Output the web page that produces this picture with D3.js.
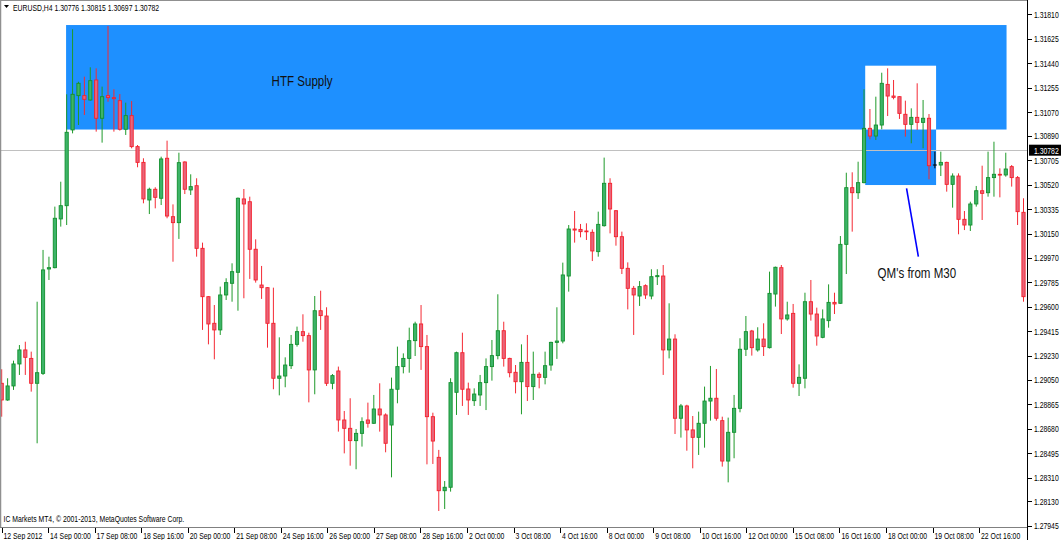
<!DOCTYPE html>
<html><head><meta charset="utf-8">
<script src="https://cdn.jsdelivr.net/npm/d3@7"></script>
<style>html,body{margin:0;padding:0;background:#fff;overflow:hidden}svg{display:block}</style>
</head><body>
<svg id="chart" width="1061" height="540"></svg>
<script>
// ---- data (EURUSD H4, 12 Sep 2012 16:00 onward) ----
const opens = [1.29022,1.28896,1.29002,1.29168,1.29274,1.29210,1.29022,1.29097,1.29885,1.29895,
1.30263,1.30363,1.30935,1.31194,1.31194,1.31161,1.31312,1.31023,1.31194,1.31179,
1.31156,1.30940,1.31043,1.30809,1.30690,1.30406,1.30487,1.30419,1.30721,1.30280,
1.30235,1.30693,1.30482,1.30514,1.30041,1.29676,1.29475,1.29425,1.29689,1.29777,
1.29860,1.30414,1.30393,1.30034,1.29764,1.29744,1.29475,1.29060,1.29077,1.29155,
1.29316,1.29412,1.29382,1.29123,1.29570,1.29530,1.29022,1.29115,1.28745,1.28682,
1.28589,1.28644,1.28745,1.28720,1.28828,1.28783,1.28707,1.28977,1.29148,1.29210,
1.29344,1.29470,1.29299,1.28770,1.28463,1.28211,1.28237,1.28954,1.29253,1.28979,
1.28891,1.28934,1.29027,1.29148,1.29231,1.29419,1.29210,1.29105,1.29034,1.29180,
1.28997,1.29090,1.29067,1.29160,1.29331,1.29341,1.29832,1.30187,1.30184,1.30172,
1.30162,1.30016,1.30212,1.30532,1.30325,1.30129,1.29890,1.29739,1.29681,1.29759,
1.29681,1.29827,1.29832,1.29274,1.29356,1.28758,1.28851,1.28670,1.28614,1.28720,
1.28888,1.28909,1.28740,1.28435,1.28652,1.28833,1.29279,1.29417,1.29274,1.29356,
1.29291,1.29696,1.29895,1.29508,1.29550,1.29022,1.29060,1.29638,1.29545,1.29369,
1.29495,1.29633,1.29626,1.30071,1.30499,1.30461,1.30537,1.30947,1.30889,1.30972,
1.31279,1.31191,1.31186,1.31053,1.30977,1.31030,1.30992,1.31023,1.30670,1.30670,
1.30690,1.30524,1.30587,1.30260,1.30217,1.30376,1.30476,1.30461,1.30575,1.30600,
1.30595,1.30658,1.30575,1.30313];
const highs = [1.29128,1.29060,1.29193,1.29311,1.29336,1.29261,1.29638,1.30029,1.29978,1.30356,
1.30544,1.31204,1.31695,1.31299,1.31337,1.31408,1.31400,1.31262,1.31720,1.31242,
1.31206,1.31141,1.31153,1.30821,1.30721,1.30499,1.30502,1.30733,1.30854,1.30373,
1.30763,1.30698,1.30600,1.30570,1.30084,1.29680,1.29613,1.29752,1.29815,1.29928,
1.30425,1.30489,1.30431,1.30109,1.29908,1.29748,1.29744,1.29369,1.29218,1.29387,
1.29450,1.29543,1.29404,1.29681,1.29721,1.29596,1.29092,1.29148,1.28813,1.28909,
1.28677,1.28765,1.28876,1.28934,1.29022,1.28795,1.29065,1.29299,1.29248,1.29442,
1.29487,1.29613,1.29387,1.28800,1.28519,1.28284,1.29060,1.29261,1.29404,1.29027,
1.28984,1.29085,1.29210,1.29349,1.29694,1.29487,1.29215,1.29160,1.29316,1.29387,
1.29261,1.29105,1.29261,1.29336,1.29596,1.29933,1.30217,1.30323,1.30225,1.30230,
1.30184,1.30318,1.30726,1.30570,1.30330,1.30167,1.29935,1.29757,1.29794,1.29769,
1.29883,1.29883,1.29915,1.29626,1.29392,1.28866,1.28860,1.28775,1.28808,1.28997,
1.29153,1.29130,1.28770,1.28763,1.28934,1.29362,1.29530,1.29425,1.29445,1.29475,
1.29865,1.29903,1.29915,1.29638,1.29621,1.29165,1.29706,1.29802,1.29593,1.29580,
1.29769,1.29706,1.30134,1.30612,1.30615,1.30695,1.31242,1.31093,1.31186,1.31367,
1.31400,1.31312,1.31190,1.31156,1.31098,1.31287,1.31161,1.31055,1.30771,1.30771,
1.30695,1.30607,1.30607,1.30323,1.30393,1.30512,1.30665,1.30771,1.30846,1.30645,
1.30763,1.30670,1.30587,1.30419];
const lows = [1.28770,1.28890,1.28972,1.29085,1.29085,1.28959,1.28569,1.29085,1.29802,1.29890,
1.30205,1.30217,1.30909,1.30972,1.31048,1.31156,1.30922,1.30839,1.31148,1.30922,
1.30930,1.30897,1.30796,1.30653,1.30381,1.30300,1.30343,1.30368,1.30268,1.29940,
1.30112,1.30451,1.30444,1.29978,1.29425,1.29316,1.29203,1.29387,1.29651,1.29638,
1.29570,1.29664,1.29810,1.29782,1.29659,1.29291,1.28977,1.28931,1.28992,1.29130,
1.29299,1.29336,1.28878,1.28939,1.29425,1.29002,1.28977,1.28657,1.28493,1.28400,
1.28373,1.28544,1.28687,1.28715,1.28657,1.28501,1.28312,1.28871,1.29097,1.29102,
1.29228,1.29123,1.28410,1.28413,1.28058,1.28073,1.28204,1.28783,1.28851,1.28783,
1.28851,1.28851,1.28820,1.29042,1.29203,1.29148,1.29067,1.28946,1.28788,1.28888,
1.28896,1.28984,1.29014,1.29117,1.29206,1.29324,1.29714,1.30084,1.30124,1.30104,
1.29945,1.29978,1.30205,1.30154,1.30061,1.29847,1.29580,1.29387,1.29606,1.29659,
1.29656,1.29764,1.29085,1.29210,1.28639,1.28612,1.28513,1.28380,1.28481,1.28536,
1.28740,1.28740,1.28393,1.28274,1.28456,1.28803,1.29228,1.29231,1.29261,1.29228,
1.29285,1.29601,1.29394,1.29495,1.28989,1.28926,1.28984,1.29495,1.29306,1.29362,
1.29442,1.29545,1.29621,1.29847,1.30167,1.30414,1.30532,1.30864,1.30859,1.30940,
1.31040,1.31166,1.31018,1.30884,1.30834,1.30935,1.30796,1.30562,1.30645,1.30587,
1.30469,1.30348,1.30147,1.30179,1.30172,1.30356,1.30255,1.30431,1.30431,1.30426,
1.30582,1.30507,1.30217,1.29638];
const closes = [1.28896,1.29002,1.29168,1.29274,1.29218,1.29022,1.29102,1.29878,1.29895,1.30268,
1.30363,1.30917,1.31204,1.31287,1.31166,1.31307,1.31023,1.31186,1.31179,1.31171,
1.30940,1.31043,1.30809,1.30690,1.30414,1.30487,1.30426,1.30716,1.30285,1.30235,
1.30688,1.30487,1.30507,1.30041,1.29676,1.29470,1.29425,1.29689,1.29782,1.29865,
1.30419,1.30376,1.30034,1.29802,1.29744,1.29475,1.29060,1.29077,1.29160,1.29316,
1.29412,1.29382,1.29123,1.29570,1.29533,1.29022,1.29080,1.28745,1.28682,1.28589,
1.28644,1.28732,1.28720,1.28828,1.28783,1.28569,1.28977,1.29148,1.29210,1.29344,
1.29470,1.29299,1.28770,1.28586,1.28211,1.28237,1.29027,1.29253,1.28977,1.28896,
1.28941,1.29027,1.29148,1.29231,1.29419,1.29210,1.29102,1.29034,1.29180,1.28997,
1.29090,1.29067,1.29155,1.29331,1.29341,1.29840,1.30187,1.30179,1.30167,1.30167,
1.30021,1.30222,1.30532,1.30338,1.30129,1.29890,1.29739,1.29689,1.29752,1.29689,
1.29827,1.29835,1.29274,1.29356,1.28758,1.28851,1.28670,1.28614,1.28720,1.28888,
1.28909,1.28758,1.28435,1.28652,1.28833,1.29279,1.29412,1.29291,1.29356,1.29299,
1.29701,1.29898,1.29508,1.29538,1.29022,1.29067,1.29638,1.29545,1.29379,1.29508,
1.29633,1.29621,1.30071,1.30499,1.30461,1.30537,1.30947,1.30889,1.30972,1.31287,
1.31191,1.31181,1.31060,1.30977,1.31030,1.30992,1.31023,1.30665,1.30670,1.30690,
1.30524,1.30587,1.30260,1.30217,1.30376,1.30476,1.30456,1.30575,1.30600,1.30595,
1.30640,1.30575,1.30318,1.29676];

const priceTicks = ["1.31810","1.31625","1.31440","1.31255","1.31070","1.30890","1.30705","1.30520",
"1.30335","1.30150","1.29970","1.29785","1.29600","1.29415","1.29230","1.29050","1.28865","1.28680",
"1.28495","1.28310","1.28130","1.27945"];
const timeLabels = ["12 Sep 2012","14 Sep 00:00","17 Sep 08:00","18 Sep 16:00","20 Sep 00:00","21 Sep 08:00",
"24 Sep 16:00","26 Sep 00:00","27 Sep 08:00","28 Sep 16:00","2 Oct 00:00","3 Oct 08:00","4 Oct 16:00",
"8 Oct 00:00","9 Oct 08:00","10 Oct 16:00","12 Oct 00:00","15 Oct 08:00","16 Oct 16:00","18 Oct 00:00",
"19 Oct 08:00","22 Oct 16:00"];
const lastPrice = 1.30782;
const headerText = "EURUSD,H4  1.30776 1.30815 1.30697 1.30782";
const footerText = "IC Markets MT4, \u00A9 2001-2013, MetaQuotes Software Corp.";
// chart objects (bar index / price anchors)
const htfZone = {from:10.9, to:170.13, top:1.31727, bottom:1.30938};
const qmZone  = {from:146.2, to:158.2, top:1.31420, bottom:1.30519};
const qmLine  = {i1:153.2, p1:1.30494, i2:155.2, p2:1.29978};
const htfLabel = {i:45.7, p:1.31263, text:"HTF Supply"};
const qmLabel  = {i:148.3, p:1.29817, text:"QM's from M30"};

// ---- drawing ----
const W = 1061, H = 540, plotR = 1028, plotB = 528;
const svg = d3.select("#chart");
const n = opens.length;
const x = d3.scaleLinear().domain([0, n-1]).range([1.7, 1023.5]);
const y = d3.scaleLinear().domain([1.27937, 1.31916]).range([527, 0]);
const xLabel = d3.scalePoint().domain(timeLabels).range([1.5, 1.5 + 46.55*(timeLabels.length-1)]);

svg.append("rect").attr("width",W).attr("height",H).attr("fill","#fff");
svg.append("defs").append("clipPath").attr("id","plot")
  .append("rect").attr("x",0).attr("y",0).attr("width",plotR).attr("height",plotB);
const plot = svg.append("g").attr("clip-path","url(#plot)");

const blue = "#1e90ff";
plot.append("rect").attr("x",x(htfZone.from)).attr("y",y(htfZone.top))
  .attr("width",x(htfZone.to)-x(htfZone.from)).attr("height",y(htfZone.bottom)-y(htfZone.top)).attr("fill",blue);
plot.append("rect").attr("x",x(qmZone.from)).attr("y",y(qmZone.top))
  .attr("width",x(qmZone.to)-x(qmZone.from)).attr("height",y(qmZone.bottom)-y(qmZone.top)).attr("fill",blue);
// XOR overlap of the two zones renders white
const ox1 = Math.max(htfZone.from,qmZone.from), ox2 = Math.min(htfZone.to,qmZone.to);
const oTop = Math.min(htfZone.top,qmZone.top), oBot = Math.max(htfZone.bottom,qmZone.bottom);
plot.append("rect").attr("x",x(ox1)).attr("y",y(oTop)).attr("width",x(ox2)-x(ox1))
  .attr("height",y(oBot)-y(oTop)).attr("fill","#fff");

// current price line
plot.append("line").attr("x1",0).attr("x2",plotR).attr("y1",Math.round(y(lastPrice))+0.5)
  .attr("y2",Math.round(y(lastPrice))+0.5).attr("stroke","#c0c0c0").attr("stroke-width",1);

// candles
const bullFill="#3db468", bullStroke="#12902e", bullWick="#1f9a2a";
const bearFill="#e8657a", bearStroke="#f5202c", bearWick="#f42a34";
const idx = d3.range(n);
const cg = plot.append("g");
cg.selectAll("line.w").data(idx).join("line")
  .attr("x1",i=>x(i)).attr("x2",i=>x(i))
  .attr("y1",i=>y(highs[i])).attr("y2",i=>y(lows[i]))
  .attr("stroke",i=>opens[i]===closes[i]?"#000":(closes[i]>opens[i]?bullWick:bearWick))
  .attr("stroke-width",1);
cg.selectAll("rect.b").data(idx.filter(i=>opens[i]!==closes[i])).join("rect")
  .attr("x",i=>x(i)-1.6).attr("width",3.2)
  .attr("y",i=>y(Math.max(opens[i],closes[i])))
  .attr("height",i=>Math.max(0.8,Math.abs(y(opens[i])-y(closes[i]))))
  .attr("fill",i=>closes[i]>opens[i]?bullFill:bearFill)
  .attr("stroke",i=>closes[i]>opens[i]?bullStroke:bearStroke).attr("stroke-width",0.9);
cg.selectAll("line.d").data(idx.filter(i=>opens[i]===closes[i])).join("line")
  .attr("x1",i=>x(i)-2).attr("x2",i=>x(i)+2).attr("y1",i=>y(opens[i])).attr("y2",i=>y(opens[i]))
  .attr("stroke","#000").attr("stroke-width",1);

// annotation line and texts
plot.append("line").attr("x1",x(qmLine.i1)).attr("y1",y(qmLine.p1)).attr("x2",x(qmLine.i2)).attr("y2",y(qmLine.p2))
  .attr("stroke","#0000ff").attr("stroke-width",1.6);
function scaledText(parent, tx, ty, str, size, sx, fill, anchor){
  return parent.append("g").attr("transform",`translate(${tx},${ty}) scale(${sx},1)`)
    .append("text").attr("x",0).attr("y",0).attr("font-family","'Liberation Sans', Arial, sans-serif")
    .attr("font-size",size).attr("fill",fill).attr("text-anchor",anchor||"start").text(str);
}
scaledText(plot, x(htfLabel.i), y(htfLabel.p), htfLabel.text, 14, 0.825, "#111");
scaledText(plot, x(qmLabel.i), y(qmLabel.p), qmLabel.text, 14, 0.825, "#111");

// frame
svg.append("line").attr("x1",0.5).attr("x2",0.5).attr("y1",0).attr("y2",plotB).attr("stroke","#909090").attr("stroke-width",1.5);
svg.append("line").attr("x1",0).attr("x2",plotR).attr("y1",0.5).attr("y2",0.5).attr("stroke","#909090").attr("stroke-width",1);
svg.append("line").attr("x1",0).attr("x2",plotR).attr("y1",plotB-0.5).attr("y2",plotB-0.5).attr("stroke","#808080").attr("stroke-width",1);
svg.append("line").attr("x1",plotR-0.5).attr("x2",plotR-0.5).attr("y1",0).attr("y2",H).attr("stroke","#000").attr("stroke-width",1);

// header
svg.append("path").attr("d","M4,5 L9,5 L6.5,8 Z").attr("fill","#000");
scaledText(svg, 13, 10.5, headerText, 9.8, 0.7, "#000");
scaledText(svg, 3.5, 522, footerText, 9.8, 0.7, "#000");

// right price axis
const ax = svg.append("g");
priceTicks.forEach(t=>{
  const py = y(+t);
  ax.append("line").attr("x1",plotR).attr("x2",plotR+4).attr("y1",Math.round(py)+0.5).attr("y2",Math.round(py)+0.5).attr("stroke","#000");
  scaledText(ax, 1034, py+3.5, t, 9.8, 0.7, "#000");
});
const ly = y(lastPrice);
ax.append("rect").attr("x",plotR+1).attr("y",ly-5.5).attr("width",33).attr("height",11).attr("fill","#000");
scaledText(ax, 1034, ly+3.5, d3.format(".5f")(lastPrice), 9.8, 0.7, "#fff");

// bottom time axis
const bx = svg.append("g");
timeLabels.forEach(t=>{
  const tx = xLabel(t);
  bx.append("line").attr("x1",Math.round(tx)+0.5).attr("x2",Math.round(tx)+0.5).attr("y1",plotB).attr("y2",plotB+5).attr("stroke","#000");
  scaledText(bx, tx+2, 539, t, 9.8, 0.7, "#000");
});
</script>
</body></html>
